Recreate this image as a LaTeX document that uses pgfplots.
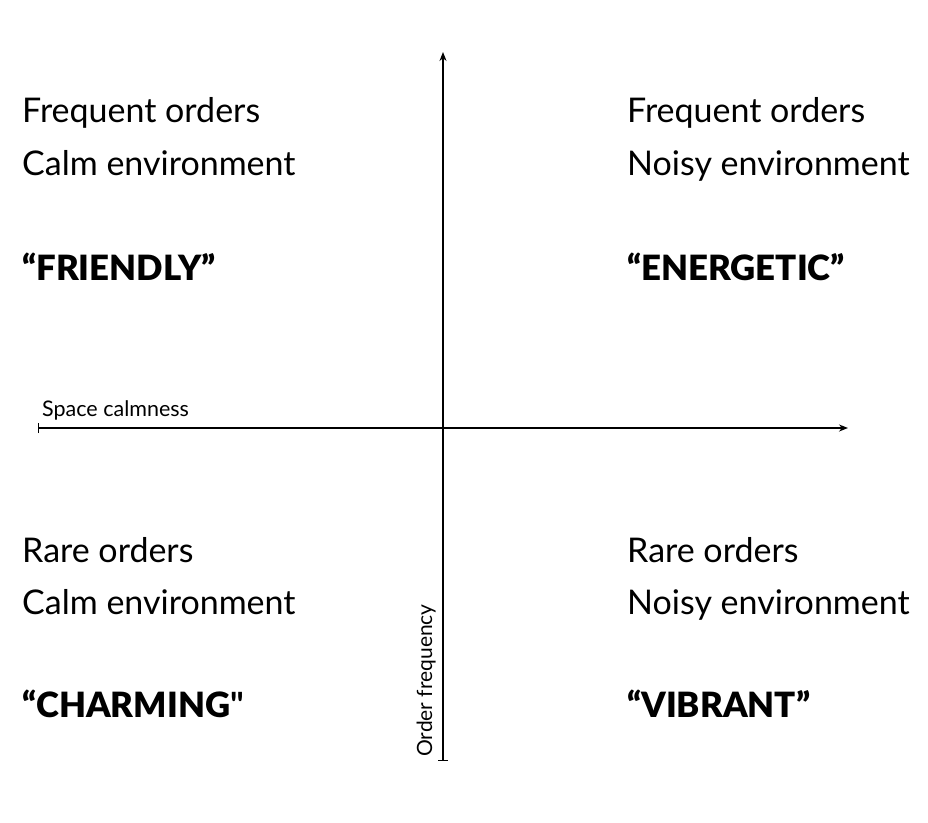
\documentclass[border=0pt]{standalone}
\usepackage{fontspec}
\setmainfont{Lato}[BoldFont={Lato Black}]
\newfontfamily\rawblack{Lato Black}[Ligatures=ResetAll]
\usepackage{pgfplots}
\pgfplotsset{compat=1.18}
\usetikzlibrary{arrows.meta}
\begin{document}
\begin{tikzpicture}
\begin{axis}[
    scale only axis,
    width=928pt, height=822pt,
    xmin=0, xmax=928, ymin=0, ymax=822,
    y dir=reverse,
    hide axis,
    clip=false,
]
% horizontal axis: space calmness
\addplot[black, line width=1.4pt, {Bar[width=10pt]}-{Stealth[length=9pt,width=7pt]}]
    coordinates {(38,428) (848,428)};
% vertical axis: order frequency
\addplot[black, line width=1.4pt, {Bar[width=10pt]}-{Stealth[length=9pt,width=7pt]}]
    coordinates {(443,761) (443,52)};
\path (axis cs:0,0) (axis cs:928,822);

\tikzset{lab/.style={anchor=base west, inner sep=0pt, font=\fontsize{34}{40}\selectfont}}
\tikzset{big/.style={anchor=base west, inner sep=0pt, font=\fontsize{34.8}{40}\selectfont\bfseries}}

\node[lab] at (axis cs:22,122) {Frequent orders};
\node[lab] at (axis cs:22,175) {Calm environment};
\node[big] at (axis cs:22,280) {“FRIENDLY”};

\node[lab] at (axis cs:627,122) {Frequent orders};
\node[lab] at (axis cs:627,175) {Noisy environment};
\node[big] at (axis cs:627,280) {“ENERGETIC”};

\node[lab] at (axis cs:22,562) {Rare orders};
\node[lab] at (axis cs:22,614) {Calm environment};
\node[big] at (axis cs:22,717) {“CHARMING{\rawblack"}};

\node[lab] at (axis cs:627,562) {Rare orders};
\node[lab] at (axis cs:627,614) {Noisy environment};
\node[big] at (axis cs:627,717) {“VIBRANT”};

\node[anchor=base west, inner sep=0pt, font=\fontsize{21.5}{24}\selectfont] at (axis cs:42,416) {Space calmness};
\node[anchor=base west, inner sep=0pt, rotate=90, font=\fontsize{21}{24}\selectfont] at (axis cs:432,757) {Order frequency};
\end{axis}
\end{tikzpicture}
\end{document}
